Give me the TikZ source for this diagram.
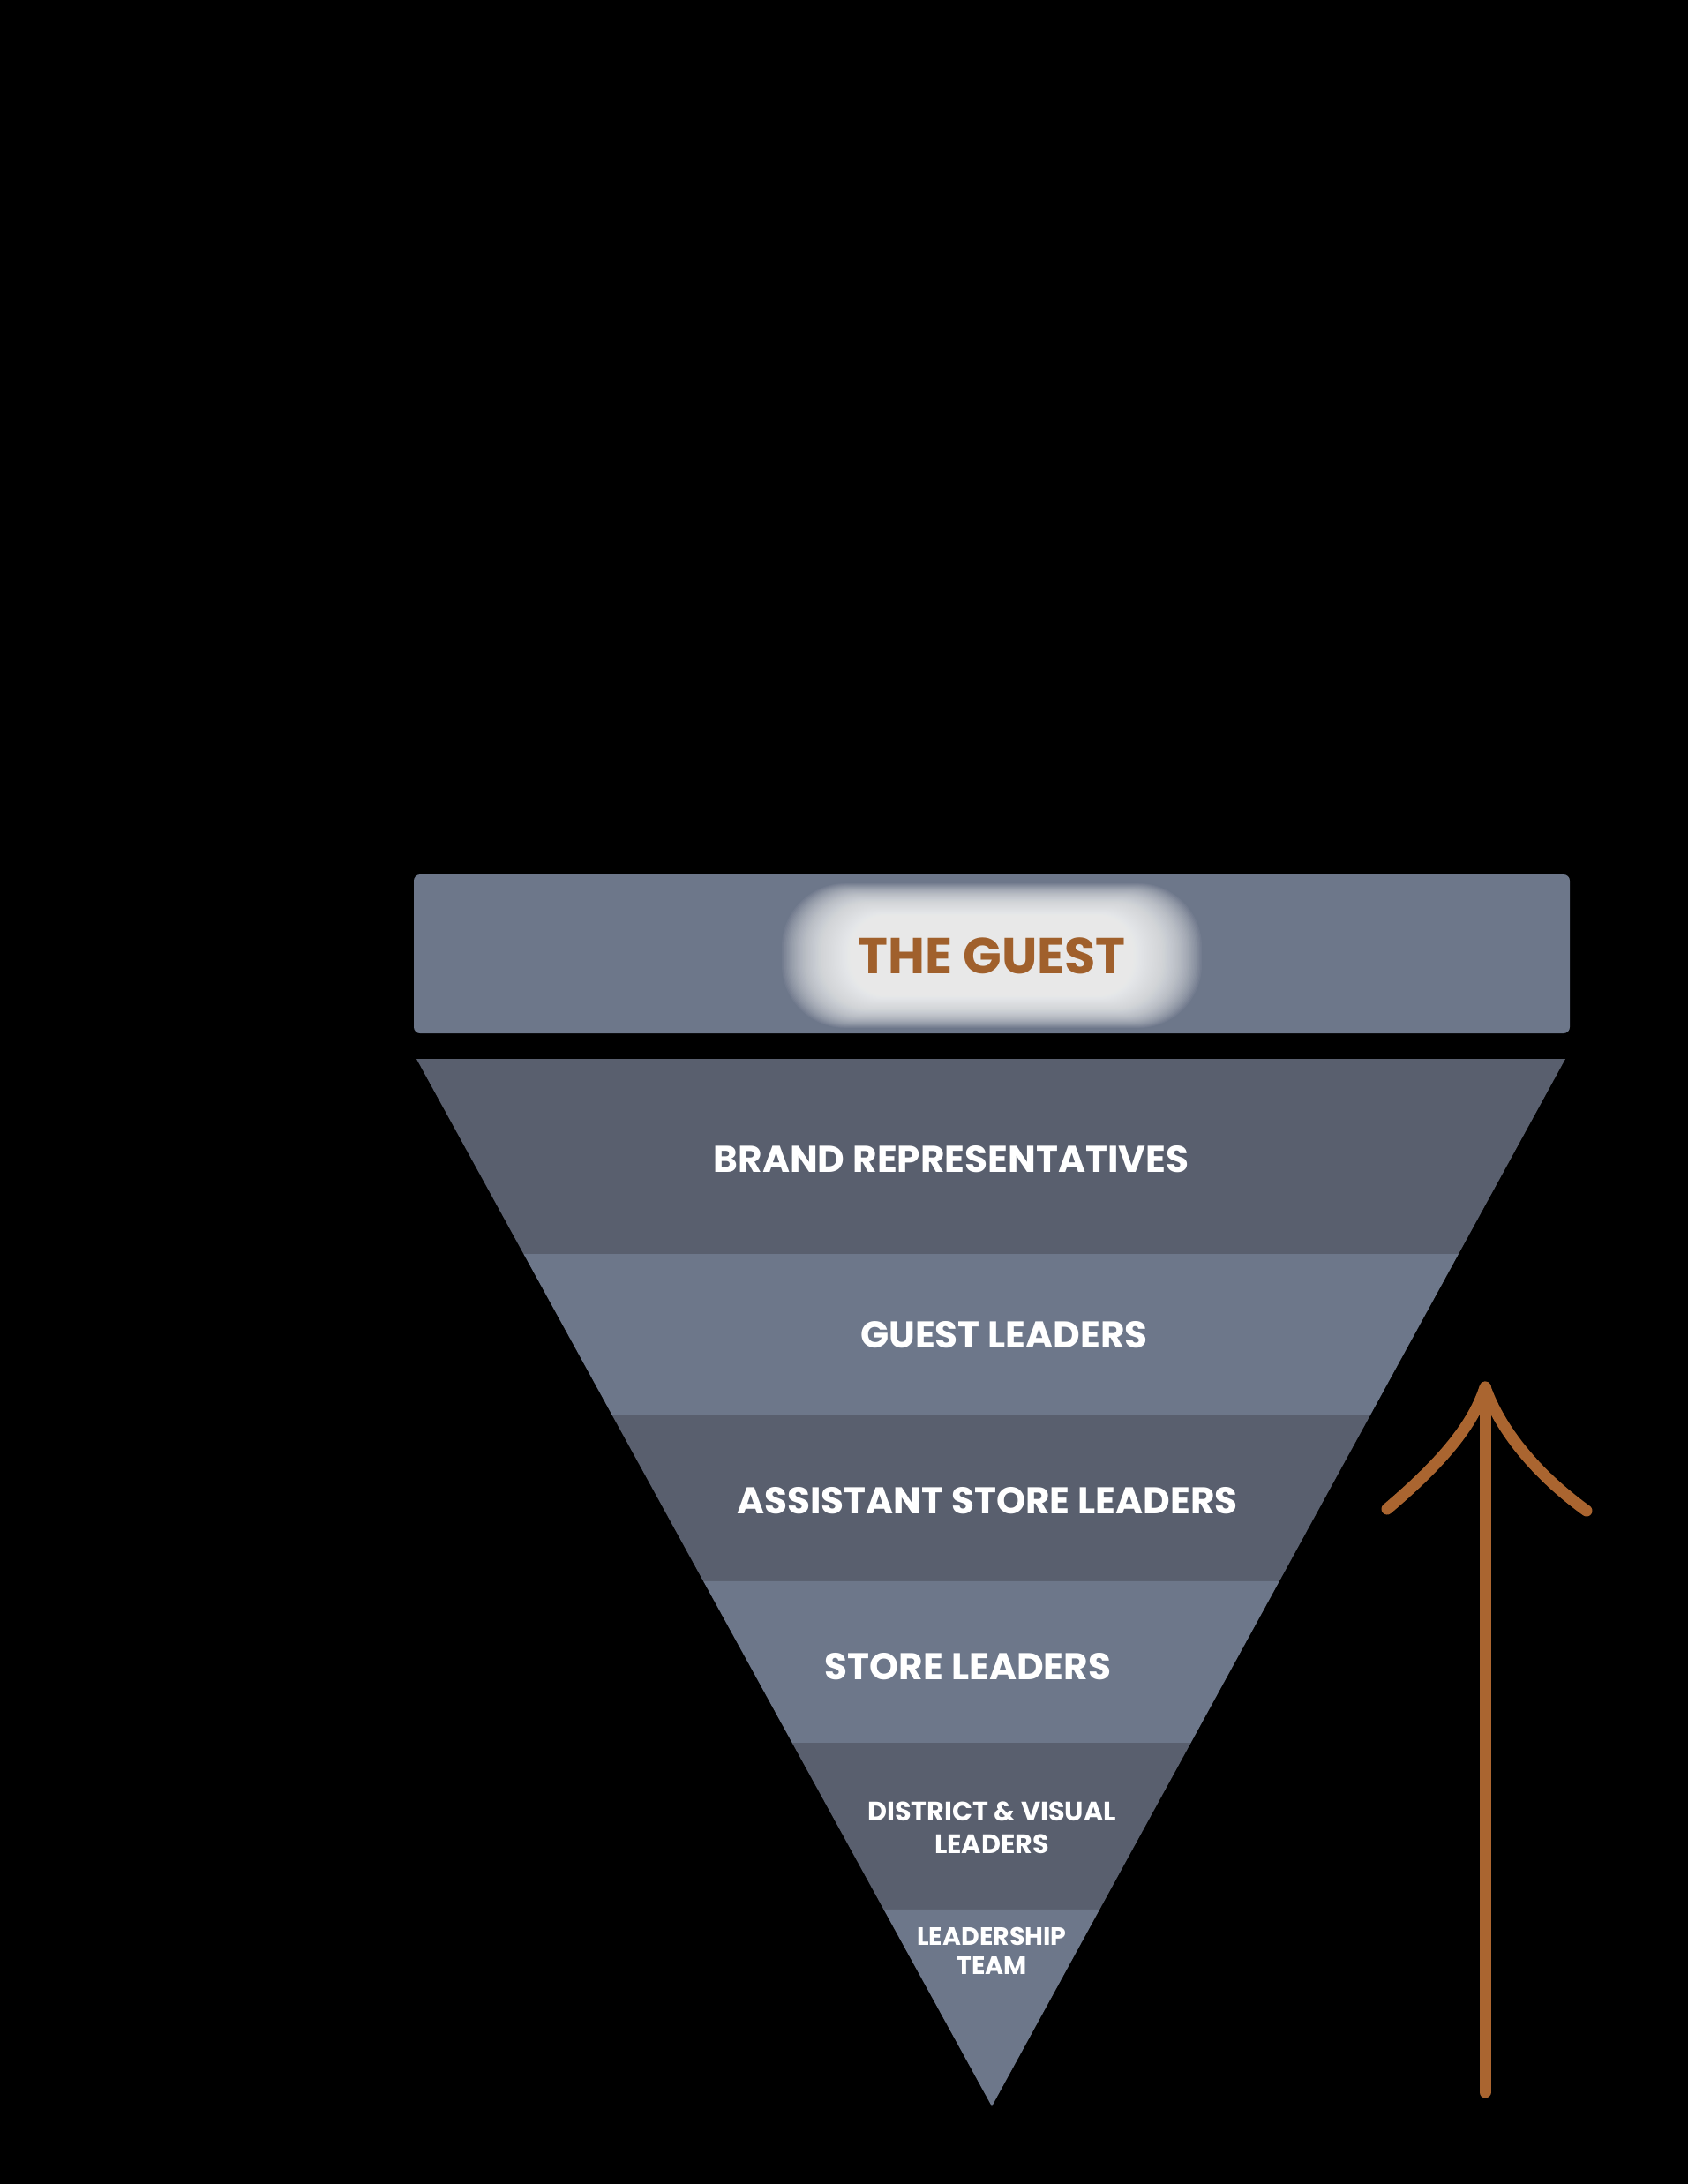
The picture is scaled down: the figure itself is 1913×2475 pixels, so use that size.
\documentclass[tikz,border=0pt]{standalone}
\usepackage{fontspec}
\setmainfont{Poppins}
\usetikzlibrary{calc}

\definecolor{bandDark}{HTML}{595F6E}
\definecolor{bandLight}{HTML}{6D778A}
\definecolor{guestBrown}{HTML}{A0602C}
\definecolor{arrowBrown}{HTML}{AA6530}

\tikzset{
	tier/.style={text=white, inner sep=0pt, font=\bfseries\fontsize{12}{14}\selectfont},
	small tier/.style={tier, align=center, font=\bfseries\fontsize{8.6}{10.5}\selectfont},
	stroke/.style={arrowBrown, line width=3.7pt, line cap=round, line join=round}
}

\begin{document}
\begin{tikzpicture}[x=0.01cm, y=-0.01cm]

	\fill [black] (0, 0) rectangle (1913, 2475);

	% guest box with its glow
	\fill [bandLight, rounded corners=2pt] (469, 991) rectangle (1779, 1171);
	\begin{scope}
		\clip (469, 991) rectangle (1779, 1171);
		\foreach \k in {0,...,59} {
			\pgfmathsetmacro\rc{0.25*(82-0.7*\k)}
			\fill [white, opacity=0.045, rounded corners=\rc pt] ($(1124, 1083)+(-238+1.5*\k, -82+0.7*\k)$) rectangle ($(1124, 1083)+(238-1.5*\k, 82-0.7*\k)$);
		}
	\end{scope}
	\node (guest) [text=guestBrown, inner sep=0pt, font=\bfseries\fontsize{16.3}{19}\selectfont] at (1124, 1083) {THE GUEST};

	% the upside-down pyramid
	\coordinate (tl) at (472, 1200);
	\coordinate (tr) at (1774, 1200);
	\coordinate (tip) at (1124, 2387);

	\foreach \a/\b/\c in {0/0.1862/bandDark, 0.1862/0.3404/bandLight, 0.3404/0.4987/bandDark, 0.4987/0.6529/bandLight, 0.6529/0.8121/bandDark, 0.8121/1/bandLight} {
		\fill [\c] ($(tl)!\a!(tip)$) -- ($(tr)!\a!(tip)$) -- ($(tr)!\b!(tip)$) -- ($(tl)!\b!(tip)$) -- cycle;
	}

	\node (brand) [tier] at (1078, 1314) {BRAND REPRESENTATIVES};
	\node (guestLead) [tier] at (1138, 1513) {GUEST LEADERS};
	\node (assistant) [tier] at (1119, 1701) {ASSISTANT STORE LEADERS};
	\node (store) [tier] at (1097, 1889) {STORE LEADERS};
	\node (district) [small tier] at (1124, 2071) {DISTRICT \& VISUAL\\LEADERS};
	\node (leadership) [small tier, font=\bfseries\fontsize{8.1}{9.4}\selectfont] at (1124, 2211) {LEADERSHIP\\TEAM};

	% hand drawn arrow
	\coordinate (foot) at (1683, 2371);
	\coordinate (head) at (1683, 1572);
	\coordinate (wingL) at (1572, 1710);
	\coordinate (wingR) at (1798, 1712);

	\draw [stroke] (foot) -- (head);
	\draw [stroke] (wingL) .. controls (1625, 1665) and (1668, 1620) .. (head) .. controls (1700, 1620) and (1740, 1670) .. (wingR);

\end{tikzpicture}
\end{document}
